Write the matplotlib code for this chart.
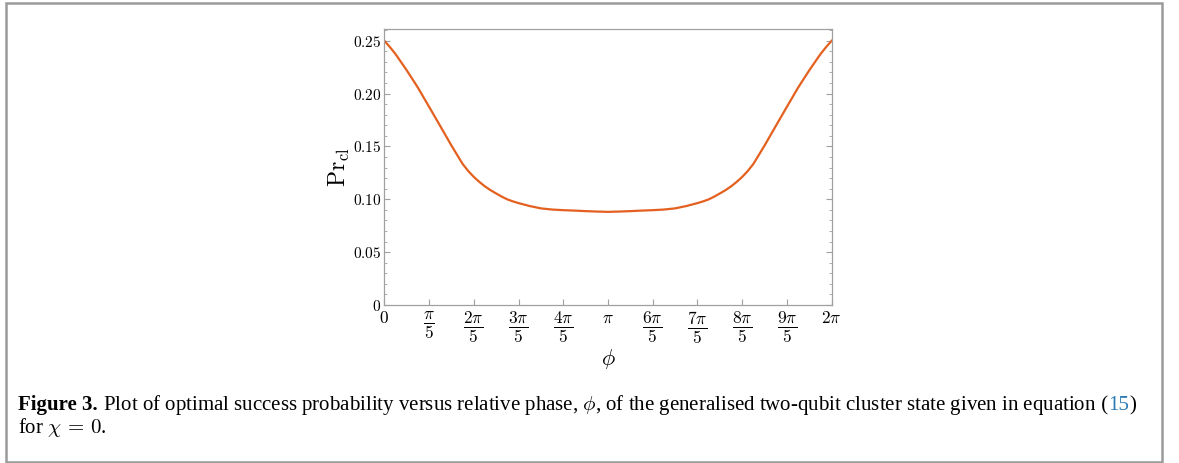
import numpy as np
import matplotlib
matplotlib.use("Agg")
import matplotlib.pyplot as plt
from matplotlib.patches import Rectangle
from matplotlib.ticker import MultipleLocator

plt.rcParams['mathtext.fontset'] = 'cm'

# phi in units of pi
phi_over_pi = [0.000, 0.025, 0.050, 0.100, 0.150, 0.200, 0.250, 0.300, 0.350, 0.375,
               0.400, 0.425, 0.450, 0.475, 0.500, 0.525, 0.550, 0.575, 0.600, 0.650,
               0.700, 0.750, 0.800, 0.850, 0.900, 0.950, 1.000, 1.050, 1.100, 1.150,
               1.200, 1.250, 1.300, 1.350, 1.400, 1.425, 1.450, 1.475, 1.500, 1.525,
               1.550, 1.575, 1.600, 1.625, 1.650, 1.700, 1.750, 1.800, 1.850, 1.900,
               1.950, 1.975, 2.000]
pr_cl = [0.2500, 0.2440, 0.2374, 0.2221, 0.2057, 0.1876, 0.1693, 0.1509, 0.1335, 0.1268,
         0.1212, 0.1164, 0.1122, 0.1086, 0.1055, 0.1025, 0.0999, 0.0980, 0.0964, 0.0936,
         0.0914, 0.0903, 0.0897, 0.0893, 0.0888, 0.0884, 0.0881, 0.0884, 0.0888, 0.0893,
         0.0897, 0.0903, 0.0914, 0.0936, 0.0964, 0.0980, 0.0999, 0.1025, 0.1055, 0.1086,
         0.1122, 0.1164, 0.1212, 0.1268, 0.1335, 0.1509, 0.1693, 0.1876, 0.2057, 0.2221,
         0.2374, 0.2440, 0.2500]

xtick_labels = [r'$0$', r'$\dfrac{\pi}{5}$', r'$\dfrac{2\pi}{5}$', r'$\dfrac{3\pi}{5}$',
                r'$\dfrac{4\pi}{5}$', r'$\pi$', r'$\dfrac{6\pi}{5}$', r'$\dfrac{7\pi}{5}$',
                r'$\dfrac{8\pi}{5}$', r'$\dfrac{9\pi}{5}$', r'$2\pi$']
ytick_vals = [0, 0.05, 0.10, 0.15, 0.20, 0.25]
ytick_labels = ['$0$', '$0.05$', '$0.10$', '$0.15$', '$0.20$', '$0.25$']

W, H = 1179, 463
fig = plt.figure(figsize=(W / 100, H / 100), dpi=100)
ax = fig.add_axes([384.3 / W, 1 - 305 / H, (831.7 - 384.3) / W, (305 - 29.3) / H])

phi = np.array(phi_over_pi) * np.pi
ax.plot(phi, pr_cl, color='#e4601f', lw=1.6, solid_joinstyle='round')

ax.set_xlim(0, 2 * np.pi)
ax.set_ylim(0, 0.2608)
ax.set_xticks(np.arange(11) * np.pi / 5)
ax.set_xticklabels(xtick_labels)
ax.set_yticks(ytick_vals)
ax.set_yticklabels(ytick_labels)
ax.yaxis.set_minor_locator(MultipleLocator(0.01))

for s in ax.spines.values():
    s.set_color('#a0a0a0')
    s.set_linewidth(0.9)
ax.tick_params(which='both', direction='in', color='#a0a0a0',
               right=True, top=False)
ax.tick_params(which='major', length=4, width=0.8)
ax.tick_params(which='minor', length=2.2, width=0.6)
ax.tick_params(axis='y', labelsize=11, pad=2)
ax.tick_params(axis='x', labelsize=12.5, pad=3)

ax.set_xlabel(r'$\phi$', fontsize=16, labelpad=1)
ax.set_ylabel(r'$\mathrm{Pr}_{\mathrm{cl}}$', fontsize=17, labelpad=1)

# outer frame
fig.add_artist(Rectangle((6 / W, 1 - 462 / H), (1162 - 6) / W, (462 - 3) / H,
                         transform=fig.transFigure, fill=False,
                         edgecolor='#9a9a9a', lw=1.8))

# caption, drawn piece by piece so '15' can be blue
cap_font = ['Liberation Serif', 'DejaVu Serif']
cap_size = 15
pieces = [
    ('Figure 3.', 'bold', 'black'),
    (' Plot of optimal success probability versus relative phase, $\\phi$, of the generalised '
     'two-qubit cluster state given in equation', 'normal', 'black'),
    (' (', 'normal', 'black'),
    ('15', 'normal', '#2a7bb5'),
    (')', 'normal', 'black'),
]
fig.canvas.draw()
renderer = fig.canvas.get_renderer()
x = 18
y1 = H - 410
for txt, weight, col in pieces:
    t = fig.text(x / W, y1 / H, txt, fontsize=cap_size, fontweight=weight, color=col,
                 family=cap_font, va='baseline', ha='left')
    bb = t.get_window_extent(renderer)
    x = bb.x1
fig.text(18 / W, (H - 433) / H, 'for $\\chi\\,=\\,0$.', fontsize=cap_size,
         family=cap_font, va='baseline', ha='left')

fig.savefig('out.png', dpi=100)
